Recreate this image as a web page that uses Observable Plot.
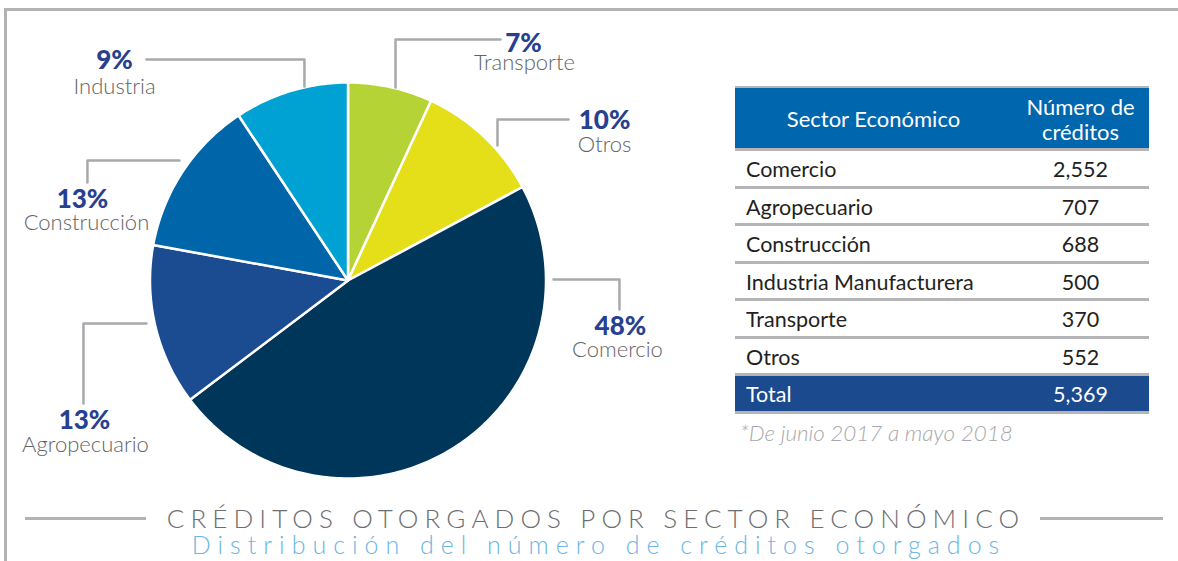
<!DOCTYPE html>
<html>
<head>
<meta charset="utf-8">
<script src="https://cdn.jsdelivr.net/npm/d3@7"></script>
<script src="https://cdn.jsdelivr.net/npm/@observablehq/plot@0.6"></script>
<style>
  html, body { margin: 0; padding: 0; background: #fff; }
  #page { position: relative; width: 1178px; height: 561px; overflow: hidden; font-family: Lato, "Open Sans", sans-serif; }
  .frameTop { position: absolute; left: 4px; top: 8px; width: 1174px; height: 3px; background: #b3b3b6; }
  .frameLeft { position: absolute; left: 4px; top: 8px; width: 3px; height: 553px; background: #b3b3b6; }
  #chart { position: absolute; left: 0; top: 0; }
  #table { position: absolute; left: 735px; top: 86px; width: 414px; }
  .row { display: flex; box-sizing: border-box; border-bottom: 3px solid #b5b5b7; font-size: 21.5px; color: #231f20; }
  .row .c1 { width: 277px; box-sizing: border-box; padding-left: 11px; }
  .row .c2 { width: 137px; text-align: center; }
  .hdr { background: #0066ad; color: #fff; height: 65px; border-top: 2px solid #b5b5b7; align-items: center; font-size: 22px; }
  .hdr .c1 { padding-left: 0; text-align: center; }
  .hdr .c2 { line-height: 25px; padding-top: 2px; }
  .body { height: 37.5px; align-items: center; padding-top: 2px; }
  .tot { background: #1b4a8f; color: #fff; height: 37.5px; align-items: center; padding-top: 1px; }
  #note { position: absolute; left: 740px; top: 419px; font-size: 22.4px; font-style: italic; font-weight: 300; color: #a7a9ac; white-space: nowrap; }
  .tline { position: absolute; top: 517px; height: 3px; background: #b3b3b6; }
  #title { position: absolute; left: 0; width: 1192px; top: 505px; line-height: 26px; text-align: center; font-size: 26px; font-weight: 300; letter-spacing: 6.1px; color: #6d6e71; white-space: nowrap; }
  #subtitle { position: absolute; left: 0; width: 1198px; top: 532px; line-height: 24px; text-align: center; font-size: 25px; font-weight: 300; letter-spacing: 7px; color: #6cb6e2; white-space: nowrap; }
</style>
</head>
<body>
<div id="page">
  <div class="frameTop"></div>
  <div class="frameLeft"></div>
  <div id="chart"></div>
  <div id="table"></div>
  <div id="note"></div>
  <div class="tline" style="left:25px;width:121px;"></div>
  <div class="tline" style="left:1040px;width:123px;"></div>
  <div id="title"></div>
  <div id="subtitle"></div>
</div>
<script>
// ---- Pie data (clockwise from 12 o'clock) ----
const categories = ["Transporte", "Otros", "Comercio", "Agropecuario", "Construcción", "Industria"];
const credits = [370, 552, 2552, 707, 688, 500];
const percentLabels = ["7%", "10%", "48%", "13%", "13%", "9%"];
const sliceColors = ["#b5d334", "#e4df19", "#00365a", "#1b4b90", "#0066a9", "#00a1d3"];

// ---- Table data ----
const tableSectors = ["Comercio", "Agropecuario", "Construcción", "Industria Manufacturera", "Transporte", "Otros"];
const tableCounts = [2552, 707, 688, 500, 370, 552];
const tableHeader = ["Sector Económico", "Número de<br>créditos"];
const totalLabel = "Total";

// ---- Texts ----
const titleText = "CRÉDITOS OTORGADOS POR SECTOR ECONÓMICO";
const subtitleText = "Distribución del número de créditos otorgados";
const noteText = "*De junio 2017 a mayo 2018";

// ---- Annotation layout (in pie-radius units, origin at pie centre, y downward) ----
const leaderPaths = [
  [[0.240, -0.975], [0.240, -1.217], [0.770, -1.217]],
  [[0.755, -0.682], [0.755, -0.813], [1.114, -0.813]],
  [[1.038, -0.005], [1.371, -0.005], [1.371, 0.147]],
  [[-1.018, 0.217], [-1.336, 0.217], [-1.336, 0.621]],
  [[-0.851, -0.606], [-1.316, -0.606], [-1.316, -0.495]],
  [[-0.220, -0.980], [-0.220, -1.116], [-1.018, -1.116]]
];
const pctPos = [[0.886, -1.152], [1.296, -0.763], [1.376, 0.273], [-1.331, 0.748], [-1.341, -0.364], [-1.179, -1.066]];
const namePos = [[0.891, -1.061], [1.296, -0.647], [1.361, 0.384], [-1.326, 0.864], [-1.321, -0.253], [-1.179, -0.944]];

// ---- Build pie geometry from the data ----
const pieData = categories.map((c, i) => ({category: c, value: credits[i]}));
const arcs = d3.pie().sort(null).value(d => d.value)(pieData);
const slices = arcs.map(a => {
  const n = Math.max(4, Math.ceil((a.endAngle - a.startAngle) * 180 / Math.PI));
  const ring = [[0, 0]];
  for (let k = 0; k <= n; k++) {
    const t = a.startAngle + (a.endAngle - a.startAngle) * k / n;
    ring.push([Math.sin(t), -Math.cos(t)]);
  }
  ring.push([0, 0]);
  return {type: "Feature", properties: {category: a.data.category}, geometry: {type: "Polygon", coordinates: [ring]}};
});
const leaders = leaderPaths.map(p => ({type: "Feature", properties: {}, geometry: {type: "LineString", coordinates: p}}));
const labels = categories.map((c, i) => ({
  category: c, pct: percentLabels[i],
  px: pctPos[i][0], py: pctPos[i][1], nx: namePos[i][0], ny: namePos[i][1]
}));

const chart = Plot.plot({
  width: 700,
  height: 561,
  marginLeft: 149.5,
  marginRight: 154.5,
  marginTop: 82,
  marginBottom: 83,
  clip: false,
  projection: {type: "identity", clip: false, domain: {type: "MultiPoint", coordinates: [[-1, -1], [1, 1]]}},
  color: {type: "ordinal", domain: categories, range: sliceColors},
  style: {background: "transparent", overflow: "visible"},
  marks: [
    Plot.geo(slices, {fill: d => d.properties.category, stroke: "#ffffff", strokeWidth: 2.5}),
    Plot.geo(leaders, {stroke: "#a7a9ac", strokeWidth: 2.5, fill: "none"}),
    Plot.text(labels, {x: "px", y: "py", text: "pct", lineAnchor: "bottom", fill: "#27408f",
      fontSize: 26, fontWeight: 900, fontFamily: "Lato, sans-serif"}),
    Plot.text(labels, {x: "nx", y: "ny", text: "category", lineAnchor: "bottom", fill: "#636466",
      fontSize: 22, fontWeight: 300, fontFamily: "Lato, sans-serif"})
  ]
});
document.getElementById("chart").appendChild(chart);

// ---- Table ----
const fmt = d3.format(",");
let html = `<div class="row hdr"><div class="c1">${tableHeader[0]}</div><div class="c2">${tableHeader[1]}</div></div>`;
tableSectors.forEach((s, i) => {
  html += `<div class="row body"><div class="c1">${s}</div><div class="c2">${fmt(tableCounts[i])}</div></div>`;
});
html += `<div class="row tot"><div class="c1">${totalLabel}</div><div class="c2">${fmt(d3.sum(tableCounts))}</div></div>`;
document.getElementById("table").innerHTML = html;
document.getElementById("note").textContent = noteText;
document.getElementById("title").textContent = titleText;
document.getElementById("subtitle").textContent = subtitleText;
</script>
</body>
</html>
